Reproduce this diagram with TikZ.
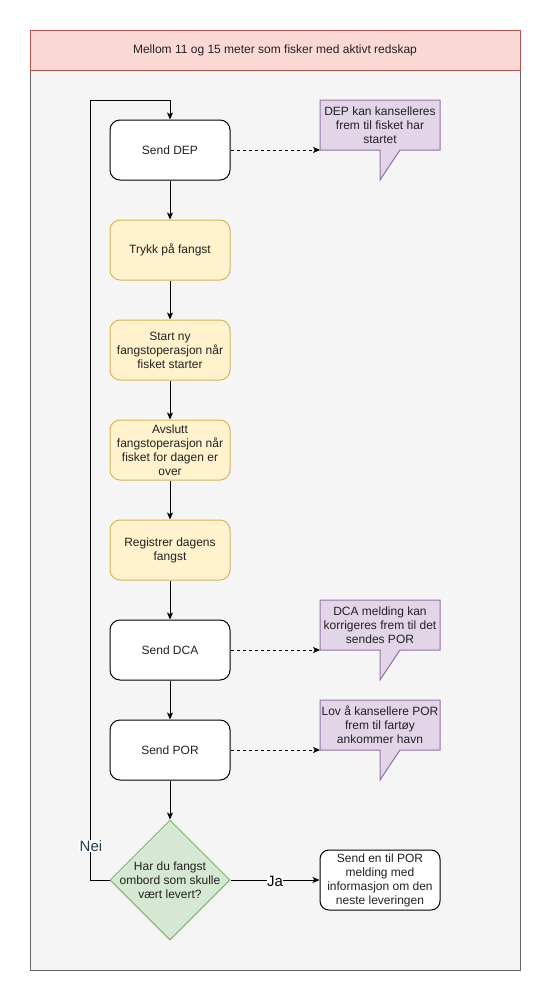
\documentclass[tikz,border=0pt]{standalone}
\usepackage{fontspec}
\setmainfont{Liberation Sans}
\usetikzlibrary{arrows.meta,shapes.geometric,calc}
\definecolor{hdrfill}{HTML}{FAD9D5}
\definecolor{hdrline}{HTML}{B85450}
\definecolor{bodyfill}{HTML}{F5F5F5}
\definecolor{bodyline}{HTML}{666666}
\definecolor{yelfill}{HTML}{FFF2CC}
\definecolor{yelline}{HTML}{D6B656}
\definecolor{grnfill}{HTML}{D5E8D4}
\definecolor{grnline}{HTML}{82B366}
\definecolor{purfill}{HTML}{E1D5E7}
\definecolor{purline}{HTML}{9673A6}
\definecolor{txt}{HTML}{222222}
\definecolor{neicol}{RGB}{35,60,75}
\tikzset{
  base/.style={font=\fontsize{12}{14}\selectfont, text=txt, align=center},
  wbox/.style={base, draw=black, fill=white, rounded corners=10pt, minimum width=120pt, minimum height=60pt, inner sep=0pt, line width=1pt},
  ybox/.style={wbox, draw=yelline, fill=yelfill},
  fbox/.style={wbox, minimum height=60pt, rounded corners=9pt},
  ctext/.style={base, inner sep=0pt},
  callout/.style={draw=purline, fill=purfill, line width=1pt},
  arr/.style={-{Stealth[length=7pt,width=6pt,inset=1.8pt]}, line width=1pt, black},
  darr/.style={arr, dash pattern=on 3pt off 3pt},
  lbl/.style={font=\fontsize{15}{17}\selectfont, fill=white, inner sep=0.5pt},
}
\begin{document}
\begin{tikzpicture}[x=1pt,y=-1pt]
\useasboundingbox (0,0) rectangle (551,1001);
\fill[white] (0,0) rectangle (551,1001);
% containers
\draw[fill=bodyfill, draw=bodyline, line width=1pt] (30,70) rectangle (520,970);
\draw[fill=hdrfill, draw=hdrline, line width=1pt] (30,30) rectangle (520,70);
\node[base] (hdr) at (275,50) {Mellom 11 og 15 meter som fisker med aktivt redskap};

% main column
\node[wbox] (dep) at (170,150) {Send DEP};
\node[ybox] (trykk) at (170,250) {Trykk på fangst};
\node[ybox] (start) at (170,350) {Start ny\\fangstoperasjon når\\fisket starter};
\node[ybox] (avsl) at (170,450) {Avslutt\\fangstoperasjon når\\fisket for dagen er\\over};
\node[ybox] (reg) at (170,550) {Registrer dagens\\fangst};
\node[wbox] (dca) at (170,650) {Send DCA};
\node[wbox] (por) at (170,750) {Send POR};
\node[diamond, draw=grnline, fill=grnfill, line width=1pt, minimum width=120pt, minimum height=120pt, inner sep=0pt] (q) at (170,880) {};
\node[base] (qt) at (170,880) {Har du fangst\\ombord som skulle\\vært levert?};
\node[fbox] (fin) at (380,880) {Send en til POR\\melding med\\informasjon om den\\neste leveringen};

% callouts
\draw[callout] (320,100) -- (440,100) -- (440,150) -- (400,150) -- (380,180) -- (380,150) -- (320,150) -- cycle;
\node[ctext] (c1) at (380,125) {DEP kan kanselleres\\frem til fisket har\\startet};
\draw[callout] (320,600) -- (440,600) -- (440,650) -- (400,650) -- (380,680) -- (380,650) -- (320,650) -- cycle;
\node[ctext] (c2) at (380,625) {DCA melding kan\\korrigeres frem til det\\sendes POR};
\draw[callout] (320,700) -- (440,700) -- (440,750) -- (400,750) -- (380,780) -- (380,750) -- (320,750) -- cycle;
\node[ctext] (c3) at (380,725) {Lov å kansellere POR\\frem til fartøy\\ankommer havn};
\coordinate (c1a) at (320,150);
\coordinate (c2a) at (320,650);
\coordinate (c3a) at (320,750);

% connectors
\draw[arr] (dep) -- (trykk);
\draw[arr] (trykk) -- (start);
\draw[arr] (start) -- (avsl);
\draw[arr] (avsl) -- (reg);
\draw[arr] (reg) -- (dca);
\draw[arr] (dca) -- (por);
\draw[arr] (por) -- (q);
\draw[darr] (dep.east) -- (c1a);
\draw[darr] (dca.east) -- (c2a);
\draw[darr] (por.east) -- (c3a);
\coordinate (l1) at (90,880);
\coordinate (l2) at (90,100);
\coordinate (l3) at (170,100);
\draw[arr] (q.west) -- (l1) -- (l2) -- (l3) -- (dep.north);
\node[lbl, text=neicol] (nei) at (91,846) {Nei};
\draw[arr] (q.east) -- (fin.west);
\node[lbl, text=black] (ja) at (275,881) {Ja};
\end{tikzpicture}
\end{document}
